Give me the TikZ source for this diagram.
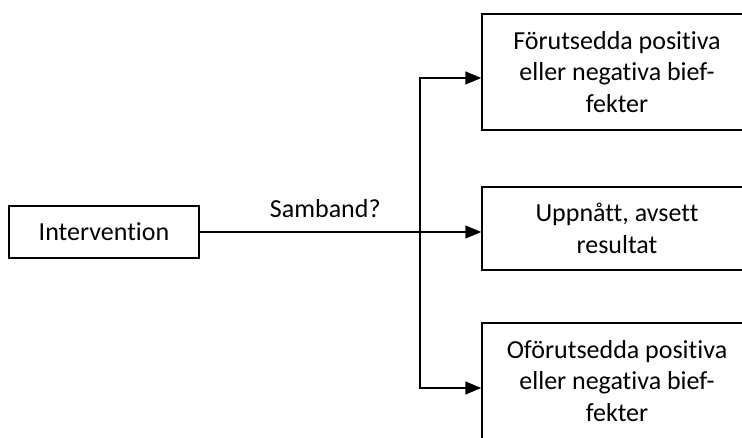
\documentclass[tikz,border=0pt]{standalone}
\usepackage{fontspec}
\setmainfont{Carlito}[Ligatures=NoCommon]
\usetikzlibrary{arrows.meta, positioning, calc}
\tikzset{
    box/.style={rectangle, draw, line width=1.5pt, align=center,
        inner sep=0pt, font=\fontsize{26}{31.5}\selectfont},
    lbl/.style={above=14pt, inner sep=0pt, font=\fontsize{26}{31.5}\selectfont},
    line/.style={line width=1.5pt},
    arrow/.style={-{Triangle[length=16pt, width=13pt]}, line width=1.5pt}
}

\begin{document}
\begin{tikzpicture}[x=1pt, y=1pt]
    \useasboundingbox (0,0) rectangle (742,438);

    \node[box, minimum width=190pt, minimum height=52pt] (interv) at (104,206) {Intervention};
    \coordinate (split) at (420,206);

    \node[box, minimum width=270pt, minimum height=116pt] (pos) at (617,366) {Förutsedda positiva\\eller negativa bief-\\fekter};
    \node[box, minimum width=270pt, minimum height=83pt] (res) at (617,209.5) {Uppnått, avsett\\resultat};
    \node[box, minimum width=270pt, minimum height=116pt] (neg) at (617,57) {Oförutsedda positiva\\eller negativa bief-\\fekter};

    \coordinate (topturn) at (420,360);
    \coordinate (botturn) at (420,50);

    \draw[line] (interv) -- node[lbl, pos=0.57] (samb) {Samband?} (split);
    \draw[arrow] (split) -- (split -| res.west);
    \draw[arrow] (split) -- (topturn) -- (topturn -| pos.west);
    \draw[arrow] (split) -- (botturn) -- (botturn -| neg.west);

\end{tikzpicture}
\end{document}
